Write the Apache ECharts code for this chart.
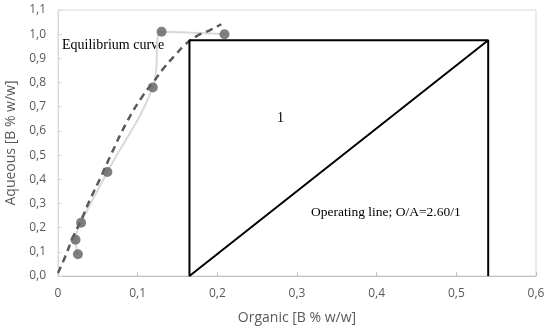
<!DOCTYPE html>
<html>
<head>
<meta charset="utf-8">
<script src="https://cdn.jsdelivr.net/npm/echarts@6/dist/echarts.min.js"></script>
<style>html,body{margin:0;padding:0;background:#fff;}#c{width:550px;height:331px;}</style>
</head>
<body>
<div id="c"></div>
<script>
// Experimental equilibrium points [organic, aqueous]
const eqPoints = [[0.025, 0.09], [0.022, 0.15], [0.029, 0.22], [0.062, 0.43], [0.119, 0.78], [0.130, 1.01], [0.209, 1.00]];
// Dashed fitted equilibrium curve
const fitCurve = [[0.000, 0.012], [0.009, 0.080], [0.019, 0.162], [0.030, 0.238], [0.040, 0.314], [0.053, 0.404], [0.067, 0.505], [0.087, 0.640], [0.107, 0.748], [0.120, 0.803], [0.134, 0.865], [0.147, 0.913], [0.159, 0.955], [0.174, 0.992], [0.191, 1.017], [0.205, 1.041]];
// McCabe-Thiele construction: stage step and operating line (O/A = 2.60/1)
const stagePath = [[0.54, 0], [0.54, 0.975], [0.165, 0.975], [0.165, 0], [0.54, 0.975]];
const xTicks = { min: 0, max: 0.6, interval: 0.1 };
const yTicks = { min: 0, max: 1.1, interval: 0.1 };
const xTitle = 'Organic [B % w/w]';
const yTitle = 'Aqueous [B % w/w]';

const chart = echarts.init(document.getElementById('c'));
const fmt = (v, zeroPlain) => (zeroPlain && v === 0) ? '0' : v.toFixed(1).replace('.', ',');
chart.setOption({
  animation: false,
  grid: { left: 58, right: 14, top: 10, bottom: 55, show: true, borderColor: '#d9d9d9', borderWidth: 1, containLabel: false, outerBoundsMode: 'none' },
  xAxis: {
    type: 'value', min: xTicks.min, max: xTicks.max, interval: xTicks.interval,
    name: xTitle, nameLocation: 'middle', nameGap: 35,
    nameTextStyle: { fontFamily: 'Open Sans', fontSize: 14, color: '#595959' },
    axisLine: { show: true, lineStyle: { color: '#bfbfbf', width: 1 } },
    axisTick: { show: true, inside: true, length: 4, lineStyle: { color: '#bfbfbf' } },
    splitLine: { show: false },
    axisLabel: { fontFamily: 'Open Sans', fontSize: 12, color: '#595959', margin: 12, formatter: v => fmt(v, true) }
  },
  yAxis: {
    type: 'value', min: yTicks.min, max: yTicks.max, interval: yTicks.interval,
    name: yTitle, nameLocation: 'middle', nameGap: 35,
    nameTextStyle: { fontFamily: 'Open Sans', fontSize: 14, color: '#595959' },
    axisLine: { show: true, lineStyle: { color: '#d9d9d9', width: 1 } },
    axisTick: { show: true, inside: true, length: 4, lineStyle: { color: '#d9d9d9' } },
    splitLine: { show: false },
    axisLabel: { fontFamily: 'Open Sans', fontSize: 12, color: '#595959', margin: 12, formatter: v => fmt(v, false) }
  },
  series: [
    {
      type: 'line', data: eqPoints, smooth: 0.4, showSymbol: false, symbol: 'none',
      lineStyle: { color: '#d9d9d9', width: 2 }, z: 1
    },
    {
      type: 'line', data: fitCurve, smooth: true, symbol: 'none',
      lineStyle: { color: '#595959', width: 2.5, type: [7, 5] }, z: 2
    },
    {
      type: 'line', data: stagePath, symbol: 'none', clip: false,
      lineStyle: { color: '#000', width: 2 }, z: 3
    },
    {
      type: 'scatter', data: eqPoints, symbolSize: 10,
      itemStyle: { color: '#606060' }, z: 4
    }
  ],
  graphic: [
    { type: 'text', left: 62, top: 38, style: { text: 'Equilibrium curve', font: '14px "Liberation Serif"', fill: '#000' } },
    { type: 'text', left: 277, top: 111, style: { text: '1', font: '14px "Liberation Serif"', fill: '#000' } },
    { type: 'text', left: 311, top: 205, style: { text: 'Operating line; O/A=2.60/1', font: '13.5px "Liberation Serif"', fill: '#000' } }
  ]
});
</script>
</body>
</html>
